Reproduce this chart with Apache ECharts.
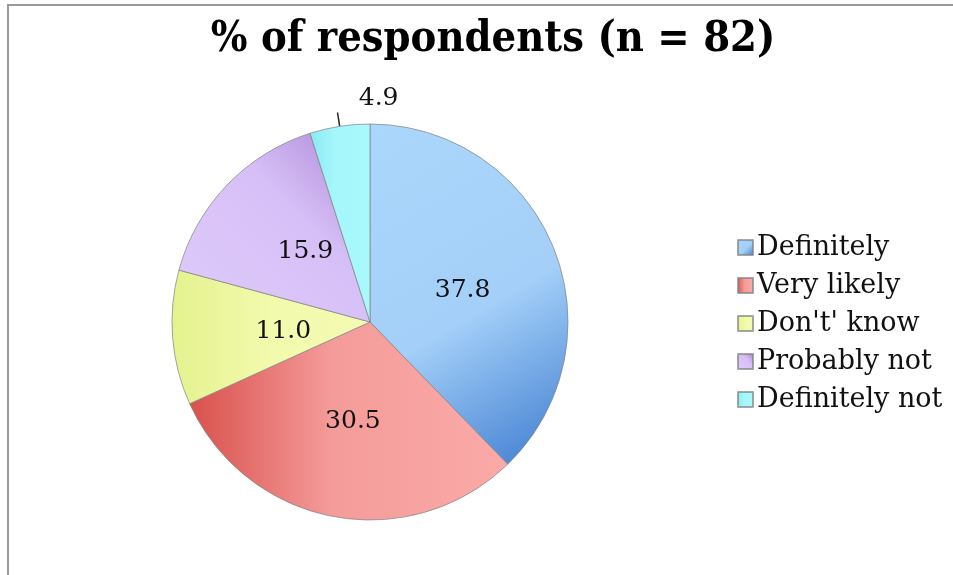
<!DOCTYPE html>
<html>
<head>
<meta charset="utf-8">
<script src="https://cdn.jsdelivr.net/npm/echarts@6/dist/echarts.min.js"></script>
<style>
  html, body { margin: 0; padding: 0; background: #fff; }
  #wrap { position: relative; width: 953px; height: 575px; overflow: hidden; }
  #frame { position: absolute; left: 7px; top: 4px; right: 0; bottom: 0; border-top: 2px solid #9a9a9a; border-left: 2px solid #9a9a9a; }
  #chart { position: absolute; left: 0; top: 0; width: 953px; height: 575px; }
</style>
</head>
<body>
<div id="wrap">
  <div id="frame"></div>
  <div id="chart"></div>
</div>
<script>
const titleText = '% of respondents (n = 82)';
const categories = ['Definitely', 'Very likely', "Don't' know", 'Probably not', 'Definitely not'];
const values = [37.8, 30.5, 11.0, 15.9, 4.9];

const fills = [
  { type: 'linear', x: 0, y: 0, x2: 1, y2: 1, colorStops: [
    { offset: 0, color: '#acd7fc' }, { offset: 0.55, color: '#a3cff8' }, { offset: 1, color: '#3c7bcf' } ] },
  { type: 'linear', x: 0, y: 0, x2: 1, y2: 0, colorStops: [
    { offset: 0, color: '#d9504c' }, { offset: 0.45, color: '#f49c9a' }, { offset: 1, color: '#fbaaa8' } ] },
  { type: 'linear', x: 0, y: 0, x2: 1, y2: 0, colorStops: [
    { offset: 0, color: '#e4f28e' }, { offset: 0.5, color: '#f2faad' }, { offset: 1, color: '#f4fbb2' } ] },
  { type: 'linear', x: 0, y: 1, x2: 1, y2: 0, colorStops: [
    { offset: 0, color: '#dfcbfb' }, { offset: 0.6, color: '#d6bff6' }, { offset: 1, color: '#a983d6' } ] },
  { type: 'linear', x: 0, y: 0, x2: 1, y2: 0, colorStops: [
    { offset: 0, color: '#8ae9f2' }, { offset: 0.4, color: '#a4f7fb' }, { offset: 1, color: '#a9f9fc' } ] }
];

// small nudges of the inside labels, matching the reference placement
const labelNudge = [[-2, 7], [2, -1], [15, 1], [9, 0], [66, -14]];

const data = categories.map((name, i) => {
  const d = { name: name, value: values[i], itemStyle: { color: fills[i] } };
  if (i === 4) {
    d.label = { position: 'outside' };
    d.labelLine = { show: true, length: 14, length2: 0, lineStyle: { color: '#222', width: 1.5 } };
  }
  return d;
});

const chart = echarts.init(document.getElementById('chart'), null, { renderer: 'canvas' });
chart.setOption({
  animation: false,
  backgroundColor: 'transparent',
  title: {
    text: titleText,
    left: 488, textAlign: 'center',
    top: 13,
    textStyle: { fontFamily: "'DejaVu Serif Condensed', 'Liberation Serif', serif", fontWeight: 'bold', fontSize: 43, color: '#000' }
  },
  legend: {
    orient: 'vertical',
    left: 732, top: 229,
    itemWidth: 15, itemHeight: 15,
    itemGap: 11,
    icon: 'rect',
    textStyle: { fontFamily: "'DejaVu Serif', serif", fontSize: 27, color: '#111', padding: [0, 0, 0, -1] },
    data: categories
  },
  series: [{
    type: 'pie',
    center: [370, 322],
    radius: 198,
    startAngle: 90,
    clockwise: true,
    avoidLabelOverlap: false,
    itemStyle: { borderColor: 'rgba(130,130,130,0.7)', borderWidth: 1 },
    label: {
      show: true,
      position: 'inside',
      formatter: p => p.value.toFixed(1),
      fontFamily: "'DejaVu Serif', serif",
      fontSize: 25,
      color: '#111'
    },
    labelLine: { show: false },
    labelLayout: function (p) {
      const n = labelNudge[p.dataIndex];
      return { dx: n[0], dy: n[1] };
    },
    emphasis: { disabled: true },
    data: data
  }]
});
</script>
</body>
</html>
